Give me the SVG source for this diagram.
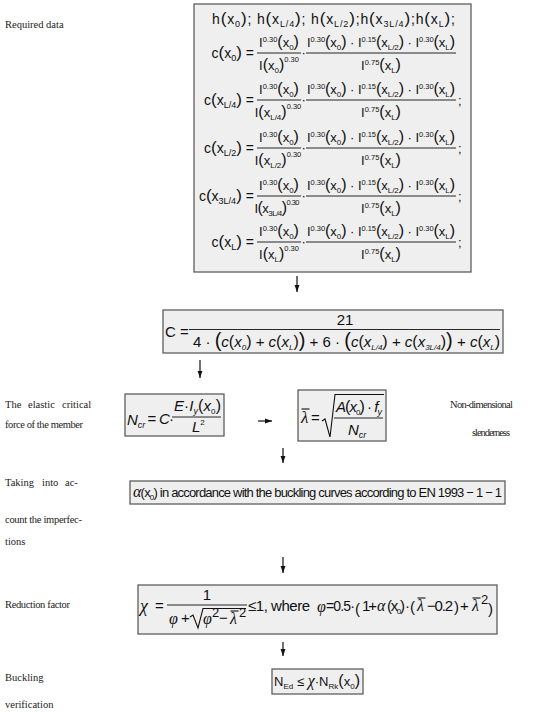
<svg xmlns="http://www.w3.org/2000/svg" xmlns:xlink="http://www.w3.org/1999/xlink" width="550" height="712" viewBox="0 0 550 712">
<style>
.f{font-family:"Liberation Sans",Arial,sans-serif;font-size:13px;fill:#111}
.f14{font-family:"Liberation Sans",Arial,sans-serif;font-size:14px;fill:#111}
.f15{font-family:"Liberation Sans",Arial,sans-serif;font-size:15px;fill:#111}
.sb{font-size:8px}
.sb9{font-size:9px}
.sp{font-size:7.5px}
.p{font-size:16px}
.p17{font-size:17px}
.p2{font-size:20px}
.it{font-style:italic}
.g{font-family:"Liberation Serif","Times New Roman",serif;font-style:italic;fill:#111}
.lbl{font-family:"Liberation Serif","Times New Roman",serif;font-size:10.5px;fill:#222}
.box{fill:#efefef;stroke:#5e5e5e;stroke-width:1.3}
.bar{stroke:#111;stroke-width:0.9}
.ln{stroke:#111;stroke-width:1.1;fill:none}
.cn{stroke:#111;stroke-width:1.2;fill:none;marker-end:url(#ah)}
</style>
<defs>
<marker id="ah" viewBox="0 0 10 10" refX="10" refY="5" markerWidth="7" markerHeight="7" markerUnits="userSpaceOnUse" orient="auto"><path d="M0,1.5 L10,5 L0,8.5 z" fill="#111"/></marker>
<g id="fr1num"><text class="f" x="0" y="-6" text-anchor="middle">I<tspan class="sp" dy="-5">0.30</tspan><tspan class="p" dy="5">(</tspan>x<tspan class="sb" dy="3">0</tspan><tspan class="p" dy="-3">)</tspan></text><line class="bar" x1="-22" y1="0" x2="22" y2="0"/></g>
<g id="fr2"><text class="f" x="0" y="-6" text-anchor="middle" textLength="148">I<tspan class="sp" dy="-5">0.30</tspan><tspan class="p" dy="5">(</tspan>x<tspan class="sb" dy="3">0</tspan><tspan class="p" dy="-3">)</tspan> · I<tspan class="sp" dy="-5">0.15</tspan><tspan class="p" dy="5">(</tspan>x<tspan class="sb" dy="3">L/2</tspan><tspan class="p" dy="-3">)</tspan> · I<tspan class="sp" dy="-5">0.30</tspan><tspan class="p" dy="5">(</tspan>x<tspan class="sb" dy="3">L</tspan><tspan class="p" dy="-3">)</tspan></text><line class="bar" x1="-75" y1="0" x2="75" y2="0"/><text class="f" x="0" y="17" text-anchor="middle">I<tspan class="sp" dy="-5">0.75</tspan><tspan class="p" dy="5">(</tspan>x<tspan class="sb" dy="3">L</tspan><tspan class="p" dy="-3">)</tspan></text></g>
</defs>
<rect width="550" height="712" fill="#fff"/>

<g id="labels">
<text class="lbl" x="5" y="28">Required data</text>
<text class="lbl" y="408"><tspan x="5">The</tspan><tspan x="28">elastic</tspan><tspan x="62">critical</tspan></text>
<text class="lbl" x="5" y="428" textLength="78">force of the member</text>
<text class="lbl" x="450" y="408" textLength="63">Non-dimensional</text>
<text class="lbl" x="472" y="436" textLength="38">slenderness</text>
<text class="lbl" y="486"><tspan x="5">Taking</tspan><tspan x="42">into</tspan><tspan x="65">ac-</tspan></text>
<text class="lbl" x="5" y="523" textLength="77">count the imperfec-</text>
<text class="lbl" x="5" y="545">tions</text>
<text class="lbl" x="5" y="608" textLength="65">Reduction factor</text>
<text class="lbl" x="5" y="681">Buckling</text>
<text class="lbl" x="5" y="708">verification</text>
</g>

<g id="node-required-data">
<rect class="box" x="194" y="4" width="277" height="268"/>
<text class="f14" x="212" y="24" textLength="243">h<tspan class="p17">(</tspan>x<tspan class="sb9" dy="3">0</tspan><tspan class="p17" dy="-3">)</tspan>; h<tspan class="p17">(</tspan>x<tspan class="sb9" dy="3">L/4</tspan><tspan class="p17" dy="-3">)</tspan>; h<tspan class="p17">(</tspan>x<tspan class="sb9" dy="3">L/2</tspan><tspan class="p17" dy="-3">)</tspan>;h<tspan class="p17">(</tspan>x<tspan class="sb9" dy="3">3L/4</tspan><tspan class="p17" dy="-3">)</tspan>;h<tspan class="p17">(</tspan>x<tspan class="sb9" dy="3">L</tspan><tspan class="p17" dy="-3">)</tspan>;</text>

<g transform="translate(0,53)">
<text class="f14" x="254" y="5" text-anchor="end">c<tspan class="p17">(</tspan>x<tspan class="sb9" dy="3">0</tspan><tspan class="p17" dy="-3">)</tspan><tspan dx="4">=</tspan></text>
<use xlink:href="#fr1num" href="#fr1num" x="279" y="0"/>
<text class="f" x="279" y="17" text-anchor="middle">I<tspan class="p">(</tspan>x<tspan class="sb" dy="3">0</tspan><tspan class="p" dy="-3">)</tspan><tspan class="sp" dy="-8">0.30</tspan></text>
<text class="f" x="301.5" y="4">·</text>
<use xlink:href="#fr2" href="#fr2" x="381" y="0"/>
</g>
<g transform="translate(0,100)">
<text class="f14" x="254" y="5" text-anchor="end">c<tspan class="p17">(</tspan>x<tspan class="sb9" dy="3">L/4</tspan><tspan class="p17" dy="-3">)</tspan><tspan dx="4">=</tspan></text>
<use xlink:href="#fr1num" href="#fr1num" x="279" y="0"/>
<text class="f" x="278" y="17" text-anchor="middle">I<tspan class="p">(</tspan>x<tspan class="sb" dy="3">L/4</tspan><tspan class="p" dy="-3">)</tspan><tspan class="sp" dy="-8">0.30</tspan></text>
<text class="f" x="301.5" y="4">·</text>
<use xlink:href="#fr2" href="#fr2" x="381" y="0"/>
<text class="f" x="458" y="5">;</text>
</g>
<g transform="translate(0,148)">
<text class="f14" x="254" y="5" text-anchor="end">c<tspan class="p17">(</tspan>x<tspan class="sb9" dy="3">L/2</tspan><tspan class="p17" dy="-3">)</tspan><tspan dx="4">=</tspan></text>
<use xlink:href="#fr1num" href="#fr1num" x="279" y="0"/>
<text class="f" x="278" y="17" text-anchor="middle">I<tspan class="p">(</tspan>x<tspan class="sb" dy="3">L/2</tspan><tspan class="p" dy="-3">)</tspan><tspan class="sp" dy="-8">0.30</tspan></text>
<text class="f" x="301.5" y="4">·</text>
<use xlink:href="#fr2" href="#fr2" x="381" y="0"/>
<text class="f" x="458" y="5">;</text>
</g>
<g transform="translate(0,196)">
<text class="f14" x="254" y="5" text-anchor="end">c<tspan class="p17">(</tspan>x<tspan class="sb9" dy="3">3L/4</tspan><tspan class="p17" dy="-3">)</tspan><tspan dx="4">=</tspan></text>
<use xlink:href="#fr1num" href="#fr1num" x="279" y="0"/>
<text class="f" x="277" y="17" text-anchor="middle" textLength="45">I<tspan class="p">(</tspan>x<tspan class="sb" dy="3">3L/4</tspan><tspan class="p" dy="-3">)</tspan><tspan class="sp" dy="-8">0.30</tspan></text>
<text class="f" x="301.5" y="4">·</text>
<use xlink:href="#fr2" href="#fr2" x="381" y="0"/>
<text class="f" x="458" y="5">;</text>
</g>
<g transform="translate(0,242)">
<text class="f14" x="254" y="5" text-anchor="end">c<tspan class="p17">(</tspan>x<tspan class="sb9" dy="3">L</tspan><tspan class="p17" dy="-3">)</tspan><tspan dx="4">=</tspan></text>
<use xlink:href="#fr1num" href="#fr1num" x="279" y="0"/>
<text class="f" x="279" y="17" text-anchor="middle">I<tspan class="p">(</tspan>x<tspan class="sb" dy="3">L</tspan><tspan class="p" dy="-3">)</tspan><tspan class="sp" dy="-8">0.30</tspan></text>
<text class="f" x="301.5" y="4">·</text>
<use xlink:href="#fr2" href="#fr2" x="381" y="0"/>
<text class="f" x="458" y="5">;</text>
</g>
</g>

<g id="node-C">
<rect class="box" x="163" y="310" width="340" height="43"/>
<text class="f15" x="165" y="337">C =</text>
<text class="f15" x="345" y="325" text-anchor="middle">21</text>
<line class="bar" x1="189" y1="329.5" x2="500" y2="329.5"/>
<text class="f15" x="193" y="347" textLength="307">4 · <tspan class="p2">(</tspan><tspan class="it">c</tspan><tspan class="p">(</tspan><tspan class="it">x</tspan><tspan class="sb it" dy="3">0</tspan><tspan class="p" dy="-3">)</tspan> + <tspan class="it">c</tspan><tspan class="p">(</tspan><tspan class="it">x</tspan><tspan class="sb it" dy="3">L</tspan><tspan class="p" dy="-3">)</tspan><tspan class="p2">)</tspan> + 6 · <tspan class="p2">(</tspan><tspan class="it">c</tspan><tspan class="p">(</tspan><tspan class="it">x</tspan><tspan class="sb it" dy="3">L/4</tspan><tspan class="p" dy="-3">)</tspan> + <tspan class="it">c</tspan><tspan class="p">(</tspan><tspan class="it">x</tspan><tspan class="sb it" dy="3">3L/4</tspan><tspan class="p" dy="-3">)</tspan><tspan class="p2">)</tspan> + <tspan class="it">c</tspan><tspan class="p">(</tspan><tspan class="it">x</tspan><tspan class="sb it" dy="3">L</tspan><tspan class="p" dy="-3">)</tspan></text>
</g>

<g id="node-Ncr">
<rect class="box" x="125" y="394" width="99" height="42"/>
<text class="f15" x="127" y="425"><tspan class="it">N</tspan><tspan class="sb9 it" dy="3">cr</tspan></text>
<text class="f15" x="147.5" y="424">=</text>
<text class="f15 it" x="159" y="424">C</text>
<text class="f15" x="169" y="424">·</text>
<text class="f15" x="174" y="411" textLength="47"><tspan class="it">E</tspan>·<tspan class="it">I</tspan><tspan class="sb9 it" dy="3">y</tspan><tspan class="p" dy="-3">(</tspan><tspan class="it">x</tspan><tspan class="sb" dy="3">0</tspan><tspan class="p" dy="-3">)</tspan></text>
<line class="bar" x1="172" y1="417" x2="221" y2="417"/>
<text class="f15" x="192" y="432"><tspan class="it">L</tspan><tspan class="sb" dy="-7">2</tspan></text>
</g>

<g id="node-lambda">
<rect class="box" x="298" y="390" width="88" height="51"/>
<text class="g" x="301" y="423" font-size="17">λ</text>
<line class="ln" x1="301.5" y1="409" x2="309.5" y2="409"/>
<text class="f15" x="311" y="423">=</text>
<path class="ln" d="M322,421 L325,419 L330,437 L335,394.5 L384,394.5"/>
<text class="f15" x="336" y="412" textLength="46"><tspan class="it">A</tspan><tspan class="p">(</tspan><tspan class="it">x</tspan><tspan class="sb" dy="3">0</tspan><tspan class="p" dy="-3">)</tspan> · <tspan class="it">f</tspan><tspan class="sb9 it" dy="3">y</tspan></text>
<line class="bar" x1="334" y1="418" x2="383" y2="418"/>
<text class="f15" x="348" y="435"><tspan class="it">N</tspan><tspan class="sb9 it" dy="3">cr</tspan></text>
</g>

<g id="node-alpha">
<rect class="box" x="130" y="481" width="375" height="23"/>
<text class="f" x="133" y="497" font-size="14" textLength="369"><tspan class="g" font-size="16">α</tspan>(x<tspan class="sb" dy="3">0</tspan><tspan dy="-3">) in accordance with the buckling curves according to EN 1993 − 1 − 1</tspan></text>
</g>

<g id="node-chi">
<rect class="box" x="138" y="585" width="359" height="49"/>
<text class="g" x="140" y="612" font-size="18">χ</text>
<text class="f15" x="155" y="611">=</text>
<text class="f15" x="207" y="600" text-anchor="middle">1</text>
<line class="bar" x1="167" y1="605" x2="247" y2="605"/>
<text class="g" x="169" y="624" font-size="16">φ</text>
<text class="f15" x="181" y="623">+</text>
<path class="ln" d="M190,617 L193,615 L198,628 L203,608.5 L246,608.5"/>
<text class="g" x="203" y="624" font-size="16">φ</text>
<text class="f" x="212" y="617" font-size="9">2</text>
<text class="f15" x="219" y="623">−</text>
<text class="g" x="230" y="624" font-size="16">λ</text>
<line class="ln" x1="230.5" y1="611" x2="238.5" y2="611"/>
<text class="f" x="239" y="617" font-size="9">2</text>
<text class="f15" x="248" y="611" textLength="62">≤1,  where</text>
<text class="g" x="317" y="612" font-size="16">φ</text>
<text class="f14" x="326" y="611" textLength="29">=0.5·</text>
<text class="f15" x="355" y="614" font-size="22">(</text>
<text class="f15" x="362" y="611" textLength="15">1+</text>
<text class="g" x="377" y="611" font-size="16">α</text>
<text class="f15" x="387" y="611" textLength="18">(x<tspan class="sb" dy="3">0</tspan><tspan dy="-3">)</tspan></text>
<text class="f15" x="405" y="611">·</text>
<text class="f15" x="410" y="612" font-size="18">(</text>
<text class="g" x="417" y="611" font-size="16">λ</text>
<line class="ln" x1="417.5" y1="598" x2="425.5" y2="598"/>
<text class="f15" x="427" y="611" textLength="26">−0.2</text>
<text class="f15" x="454" y="612" font-size="18">)</text>
<text class="f15" x="460" y="611">+</text>
<text class="g" x="472" y="611" font-size="16">λ</text>
<line class="ln" x1="472.5" y1="598" x2="480.5" y2="598"/>
<text class="f" x="481" y="604" font-size="9">2</text>
<text class="f15" x="488" y="614" font-size="22">)</text>
</g>

<g id="node-check">
<rect class="box" x="272" y="669" width="91" height="25"/>
<text class="f" x="274" y="686" font-size="14" textLength="86">N<tspan class="sb" dy="3">Ed</tspan><tspan dy="-3"> ≤ </tspan><tspan class="g" font-size="16">χ</tspan>·N<tspan class="sb" dy="3">Rk</tspan><tspan class="p" dy="-3">(</tspan>x<tspan class="sb" dy="3">0</tspan><tspan class="p" dy="-3">)</tspan></text>
</g>

<g id="connectors">
<line class="cn" x1="297" y1="276" x2="297" y2="292"/>
<line class="cn" x1="200" y1="360" x2="200" y2="378"/>
<line class="cn" x1="258" y1="421" x2="272" y2="421"/>
<line class="cn" x1="283" y1="448" x2="283" y2="463"/>
<line class="cn" x1="283" y1="557" x2="283" y2="573"/>
<line class="cn" x1="283" y1="642" x2="283" y2="656"/>
</g>
</svg>
